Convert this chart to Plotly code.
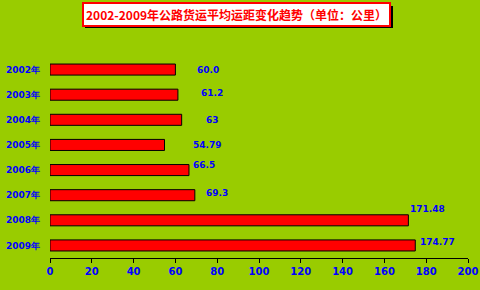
import plotly.graph_objects as go

years = ["2002年", "2003年", "2004年", "2005年", "2006年", "2007年", "2008年", "2009年"]
values = [60.0, 61.2, 63, 54.79, 66.5, 69.3, 171.48, 174.77]
labels = ["60.0", "61.2", "63", "54.79", "66.5", "69.3", "171.48", "174.77"]
x_ticks = [0, 20, 40, 60, 80, 100, 120, 140, 160, 180, 200]
title_text = "2002-2009年公路货运平均运距变化趋势（单位：公里）"

# label offsets (style only)
label_dx = [20, 21, 22, 26, 2, 9, 0, 3]
label_dy = [0, 2, 0, 0, 5, 2, 11, 3]

BG = "#99cc00"
BLUE = "#0000ff"
FONT = "DejaVu Sans"
TFONT = "Noto Sans CJK SC"

fig = go.Figure()
fig.add_trace(go.Bar(
    x=values, y=years, orientation="h",
    marker=dict(color="#ff0000", line=dict(color="black", width=1)),
    hoverinfo="skip",
))

for v, y, t, dx, dy in zip(values, years, labels, label_dx, label_dy):
    fig.add_annotation(x=v, y=y, text=t, showarrow=False, xanchor="left",
                       xshift=dx, yshift=dy,
                       font=dict(family=FONT, size=9, color=BLUE, weight="bold"))

# title shadow (decoration) then title box
fig.add_shape(type="rect", xref="paper", yref="paper",
              xsizemode="pixel", ysizemode="pixel", xanchor=0, yanchor=1,
              x0=35, x1=343, y0=29, y1=51,
              fillcolor="black", line=dict(width=0), layer="above")
fig.add_annotation(xref="paper", yref="paper", x=0.4452, y=1, yanchor="bottom",
                   text=title_text, showarrow=False, yshift=30,
                   font=dict(family=TFONT, size=12, color="#ff0000", weight="bold"),
                   bgcolor="white", bordercolor="#ff0000", borderwidth=2, borderpad=2)

fig.update_layout(
    width=480, height=290,
    margin=dict(l=50, r=12, t=57, b=32, autoexpand=False),
    paper_bgcolor=BG, plot_bgcolor=BG,
    bargap=0.56,
    showlegend=False,
    xaxis=dict(range=[0, 200], tickvals=x_ticks, showgrid=False, zeroline=False,
               showline=True, linecolor="black", linewidth=1,
               ticks="outside", ticklen=4, tickcolor="black",
               ticklabeloverflow="allow", automargin=False,
               tickfont=dict(family=FONT, size=10, color=BLUE, weight="bold")),
    yaxis=dict(autorange="reversed", showgrid=False, zeroline=False, showline=False,
               ticks="", ticklabelstandoff=9, automargin=False,
               tickfont=dict(family=FONT, size=9, color=BLUE, weight="bold")),
)

fig.write_html("out.html")
